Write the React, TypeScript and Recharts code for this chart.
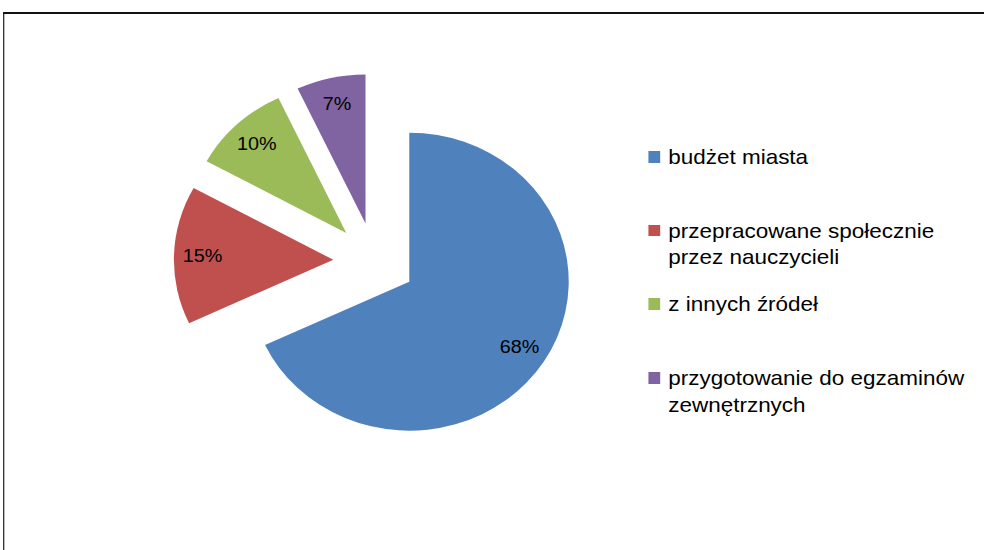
import { PieChart, Pie, Cell, Legend } from "recharts";

const names = [
  "budżet miasta",
  "przepracowane społecznie przez nauczycieli",
  "z innych źródeł",
  "przygotowanie do egzaminów zewnętrznych",
];
const values = [68, 15, 10, 7];
const colors = ["#4F81BD", "#C0504D", "#9BBB59", "#8064A2"];

// the source picture is a bit wider than tall, so the whole chart is stretched
const STRETCH = 1.07;
const CX = 350;
const CY = 261;
const R = 149;
const EXPLODE = 38.5;
const RAD = Math.PI / 180;
const FONT = "'Liberation Sans', Arial, sans-serif";

const data = names.map((name, i) => ({ name, value: values[i] }));

const total = values.reduce((a, b) => a + b, 0);
let acc = 0;
const mids = values.map((v) => {
  const start = 90 - (acc / total) * 360;
  acc += v;
  const end = 90 - (acc / total) * 360;
  return (start + end) / 2;
});

function makeLabel(i: number) {
  return (props: any) => {
    const { cx, cy, midAngle, outerRadius, index, percent } = props;
    if (index !== i) return null;
    const r = outerRadius * 0.82;
    return (
      <text
        x={cx + r * Math.cos(-midAngle * RAD)}
        y={cy + r * Math.sin(-midAngle * RAD)}
        textAnchor="middle"
        dominantBaseline="central"
        fill="#000"
        fontSize={18.5}
        fontFamily={FONT}
      >
        {Math.round(percent * 100)}%
      </text>
    );
  };
}

function LegendBox() {
  return (
    <div style={{ fontFamily: FONT, fontSize: 21, lineHeight: "26.5px", color: "#000" }}>
      {names.map((n, i) => (
        <div key={n} style={{ height: 73.7, display: "flex", alignItems: "flex-start" }}>
          <span
            style={{
              width: 11.5,
              height: 11.5,
              background: colors[i],
              marginTop: 7,
              marginRight: 7.5,
              flex: "none",
            }}
          />
          <span style={{ width: 290 }}>{n}</span>
        </div>
      ))}
    </div>
  );
}

export default function App() {
  return (
    <div style={{ position: "absolute", left: 0, top: 0, width: 984, height: 550, overflow: "hidden", background: "#fff" }}>
      <div
        style={{
          position: "absolute",
          left: 0,
          top: 0,
          width: 920,
          height: 550,
          transform: `scaleX(${STRETCH})`,
          transformOrigin: "0 0",
        }}
      >
        <div
          style={{
            position: "absolute",
            left: 3,
            top: 12,
            width: 940,
            height: 560,
            borderLeft: "1.5px solid #000",
            borderTop: "2px solid #111",
          }}
        />
        <div style={{ position: "absolute", left: 0, top: 0 }}>
          <PieChart width={920} height={550} margin={{ top: 0, right: 0, bottom: 0, left: 0 }}>
            {values.map((_, i) => (
              <Pie
                key={names[i]}
                data={data}
                dataKey="value"
                nameKey="name"
                cx={CX + EXPLODE * Math.cos(mids[i] * RAD)}
                cy={CY - EXPLODE * Math.sin(mids[i] * RAD)}
                outerRadius={R}
                startAngle={90}
                endAngle={-270}
                stroke="none"
                labelLine={false}
                label={makeLabel(i)}
                isAnimationActive={false}
              >
                {data.map((d, j) => (
                  <Cell key={d.name} fill={j === i ? colors[j] : "transparent"} stroke="none" />
                ))}
              </Pie>
            ))}
            <Legend
              content={() => <LegendBox />}
              wrapperStyle={{ position: "absolute", left: 605.5, top: 144, width: 310 }}
            />
          </PieChart>
        </div>
      </div>
    </div>
  );
}
